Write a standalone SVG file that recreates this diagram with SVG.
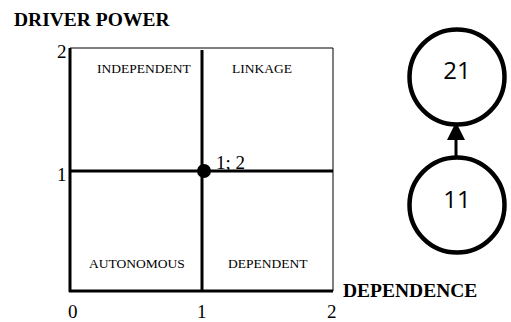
<svg xmlns="http://www.w3.org/2000/svg" width="511" height="322" viewBox="0 0 511 322">
<style>
.t{font-family:"Liberation Serif",serif;fill:#000}
.b{font-weight:bold;font-size:19.5px}
.q{font-size:13.5px}
.n{font-size:19px}
.c{font-family:"Open Sans","Liberation Sans",sans-serif;font-size:24px;text-anchor:middle}
.thick{stroke:#000;stroke-width:3;fill:none}
.thin{stroke:#000;stroke-width:1;fill:none}
.node{fill:#fff;stroke:#000;stroke-width:4.5}
</style>
<defs>
<marker id="ah" markerWidth="6" markerHeight="6" refX="3" refY="3" orient="auto" markerUnits="strokeWidth">
<path d="M0,0 L6,3 L0,6 z" fill="#000"/>
</marker>
</defs>
<g id="chart">
<line class="thin" x1="70" y1="48" x2="333" y2="48" stroke="#666"/>
<line class="thin" x1="333" y1="48" x2="333" y2="291"/>
<line class="thick" x1="70" y1="48" x2="70" y2="292"/>
<line class="thick" x1="69" y1="291" x2="333" y2="291"/>
<line class="thick" x1="202" y1="50" x2="202" y2="291"/>
<line class="thick" x1="70" y1="171" x2="333" y2="171"/>
<circle cx="204" cy="171" r="7" fill="#000"/>
<text class="t b" x="14" y="26">DRIVER POWER</text>
<text class="t n" x="57" y="58">2</text>
<text class="t n" x="57" y="181">1</text>
<text class="t n" x="68" y="318">0</text>
<text class="t n" x="197" y="318">1</text>
<text class="t n" x="327" y="318">2</text>
<text class="t n" x="216" y="169">1; 2</text>
<text class="t q" x="97" y="73">INDEPENDENT</text>
<text class="t q" x="232" y="73">LINKAGE</text>
<text class="t q" x="89" y="268">AUTONOMOUS</text>
<text class="t q" x="228" y="268">DEPENDENT</text>
<text class="t b" x="343" y="297">DEPENDENCE</text>
</g>
<g id="connectors">
<line x1="456" y1="156" x2="456" y2="131" stroke="#000" stroke-width="3" marker-end="url(#ah)"/>
</g>
<g id="node21">
<circle class="node" cx="457" cy="77" r="47.5"/>
<text class="c" x="457" y="79">21</text>
</g>
<g id="node11">
<circle class="node" cx="457" cy="205" r="47.5"/>
<text class="c" x="457" y="208">11</text>
</g>
</svg>
